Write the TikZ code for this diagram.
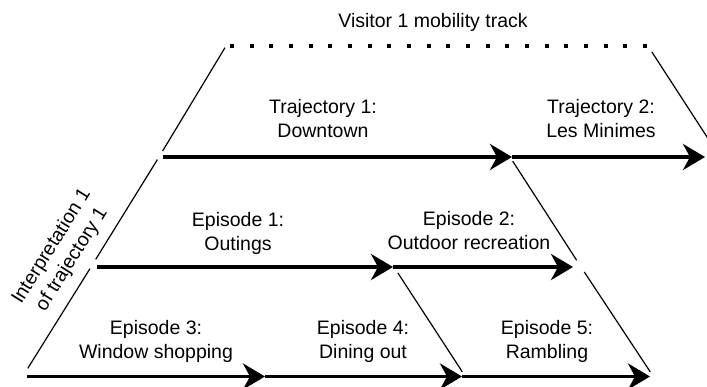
\documentclass[tikz,border=0pt]{standalone}
\usepackage{fontspec}
\setmainfont{Liberation Sans}
\usetikzlibrary{arrows.meta}
\begin{document}
\begin{tikzpicture}[x=1pt,y=-1pt,
  lbl/.style={align=center, inner sep=0pt, font=\fontsize{19.5}{24}\selectfont},
  flow/.style={line width=3.6pt, -{Stealth[length=22pt,width=26pt,inset=7pt]}},
  bound/.style={line width=1.2pt},
  track/.style={line width=4pt, dash pattern=on 4pt off 15.67pt}]
\useasboundingbox (0,0) rectangle (707,387);

% mobility track (top)
\coordinate (trackL) at (230,46);
\coordinate (trackR) at (647,46);
\draw[track] (trackL) -- (trackR);
\node[lbl] (title) at (433,22) {Visitor 1 mobility track};

% points of the left boundary line
\coordinate (L0) at (226,46);
\coordinate (L1) at (159,157);
\coordinate (L2) at (91,267);
\coordinate (L3) at (23,376);

% trajectory level
\coordinate (t0) at (163,157);
\coordinate (t12) at (512,157);
\coordinate (t2) at (705,157);
\draw[flow] (t0) -- (t12);
\draw[flow] (t12) -- (t2);

% episode level 1
\coordinate (e0) at (97,267);
\coordinate (e12) at (393,267);
\coordinate (e2) at (573,267);
\draw[flow] (e0) -- (e12);
\draw[flow] (e12) -- (e2);

% episode level 2
\coordinate (f0) at (27,376.5);
\coordinate (f34) at (265,376.5);
\coordinate (f45) at (462,376.5);
\coordinate (f5) at (650,376.5);
\draw[flow] (f0) -- (f34);
\draw[flow] (f34) -- (f45);
\draw[flow] (f45) -- (f5);

% boundary lines
\draw[bound, shorten <=2pt, shorten >=7pt] (L0) -- (L1);
\draw[bound, shorten <=3pt, shorten >=9pt] (L1) -- (L2);
\draw[bound, shorten <=2pt, shorten >=9pt] (L2) -- (L3);

\coordinate (R0) at (648,46);
\coordinate (R1) at (720,157);
\draw[bound, shorten <=7pt, shorten >=7pt] (R0) -- (R1);

\coordinate (S0) at (510,157);
\coordinate (S1) at (581,267);
\coordinate (S2) at (653,376);
\draw[bound, shorten <=5pt, shorten >=8pt] (S0) -- (S1);
\draw[bound, shorten <=6pt, shorten >=5pt] (S1) -- (S2);

\coordinate (M0) at (394,267);
\coordinate (M1) at (465,376);
\draw[bound, shorten <=7pt, shorten >=5pt] (M0) -- (M1);

% labels
\node[lbl] (traj1) at (323,119) {Trajectory 1:\\Downtown};
\node[lbl] (traj2) at (601,119) {Trajectory 2:\\Les Minimes};
\node[lbl] (ep1) at (238,233) {Episode 1:\\Outings};
\node[lbl] (ep2) at (469,231) {Episode 2:\\Outdoor recreation};
\node[lbl] (ep3) at (156,341) {Episode 3:\\Window shopping};
\node[lbl] (ep4) at (363,341) {Episode 4:\\Dining out};
\node[lbl] (ep5) at (547,341) {Episode 5:\\Rambling};
\node[lbl, rotate=58] (interp) at (62,253) {Interpretation 1\\of trajectory 1};
\end{tikzpicture}
\end{document}
